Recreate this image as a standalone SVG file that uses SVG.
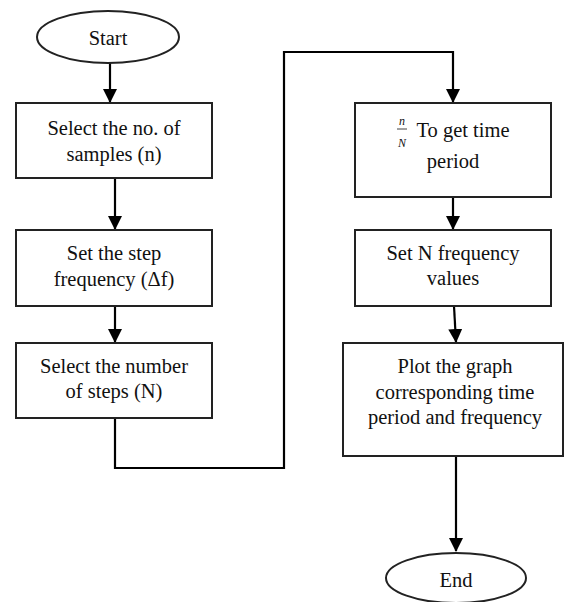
<svg xmlns="http://www.w3.org/2000/svg" width="564" height="602" viewBox="0 0 564 602">
<defs>
<marker id="ah" markerWidth="14" markerHeight="14" refX="13" refY="7" orient="auto" markerUnits="userSpaceOnUse">
<path d="M0,0 L14,7 L0,14 Z" fill="#000"/>
</marker>
<style>
.n{fill:#fff;stroke:#222;stroke-width:2}
.t{font-family:'Liberation Serif','Times New Roman','DejaVu Serif',serif;font-size:20.5px;fill:#111;text-anchor:middle}
.f{font-family:'Liberation Serif','Times New Roman','DejaVu Serif',serif;font-size:12px;font-style:italic;fill:#111;text-anchor:middle}
.c{fill:none;stroke:#000;stroke-width:2.2}
</style>
</defs>
<rect width="564" height="602" fill="#fff"/>
<g id="connectors">
<path class="c" d="M110,63 V102" marker-end="url(#ah)"/>
<path class="c" d="M115,178 V229" marker-end="url(#ah)"/>
<path class="c" d="M115,306 V342" marker-end="url(#ah)"/>
<path class="c" d="M115,418 V468 H284 V52 H453 V102" marker-end="url(#ah)"/>
<path class="c" d="M453,197 V229" marker-end="url(#ah)"/>
<path class="c" d="M454,306 L456,342" marker-end="url(#ah)"/>
<path class="c" d="M456,456 V551" marker-end="url(#ah)"/>
</g>
<g id="start">
<ellipse class="n" cx="108" cy="37" rx="71" ry="26"/>
<text class="t" x="108" y="45">Start</text>
</g>
<g id="samples">
<rect class="n" x="16" y="103" width="196" height="75"/>
<text class="t" x="114" y="135">Select the no. of</text>
<text class="t" x="114" y="161">samples (n)</text>
</g>
<g id="stepfreq">
<rect class="n" x="16" y="230" width="196" height="76"/>
<text class="t" x="114" y="260">Set the step</text>
<text class="t" x="114" y="286">frequency (Δf)</text>
</g>
<g id="steps">
<rect class="n" x="16" y="343" width="196" height="75"/>
<text class="t" x="114" y="373">Select the number</text>
<text class="t" x="114" y="398">of steps (N)</text>
</g>
<g id="timeperiod">
<rect class="n" x="355" y="103" width="196" height="94"/>
<text class="f" x="402" y="125">n</text>
<line x1="397" y1="129" x2="407" y2="129" stroke="#111" stroke-width="0.8"/>
<text class="f" x="402" y="147">N</text>
<text class="t" x="463" y="137">To get time</text>
<text class="t" x="453" y="168">period</text>
</g>
<g id="nfreq">
<rect class="n" x="355" y="230" width="196" height="76"/>
<text class="t" x="453" y="260">Set N frequency</text>
<text class="t" x="453" y="285">values</text>
</g>
<g id="plot">
<rect class="n" x="343" y="343" width="220" height="113"/>
<text class="t" x="455" y="373">Plot the graph</text>
<text class="t" x="455" y="399">corresponding time</text>
<text class="t" x="455" y="424">period and frequency</text>
</g>
<g id="end">
<ellipse class="n" cx="456" cy="578" rx="70" ry="25"/>
<text class="t" x="456" y="587">End</text>
</g>
</svg>
